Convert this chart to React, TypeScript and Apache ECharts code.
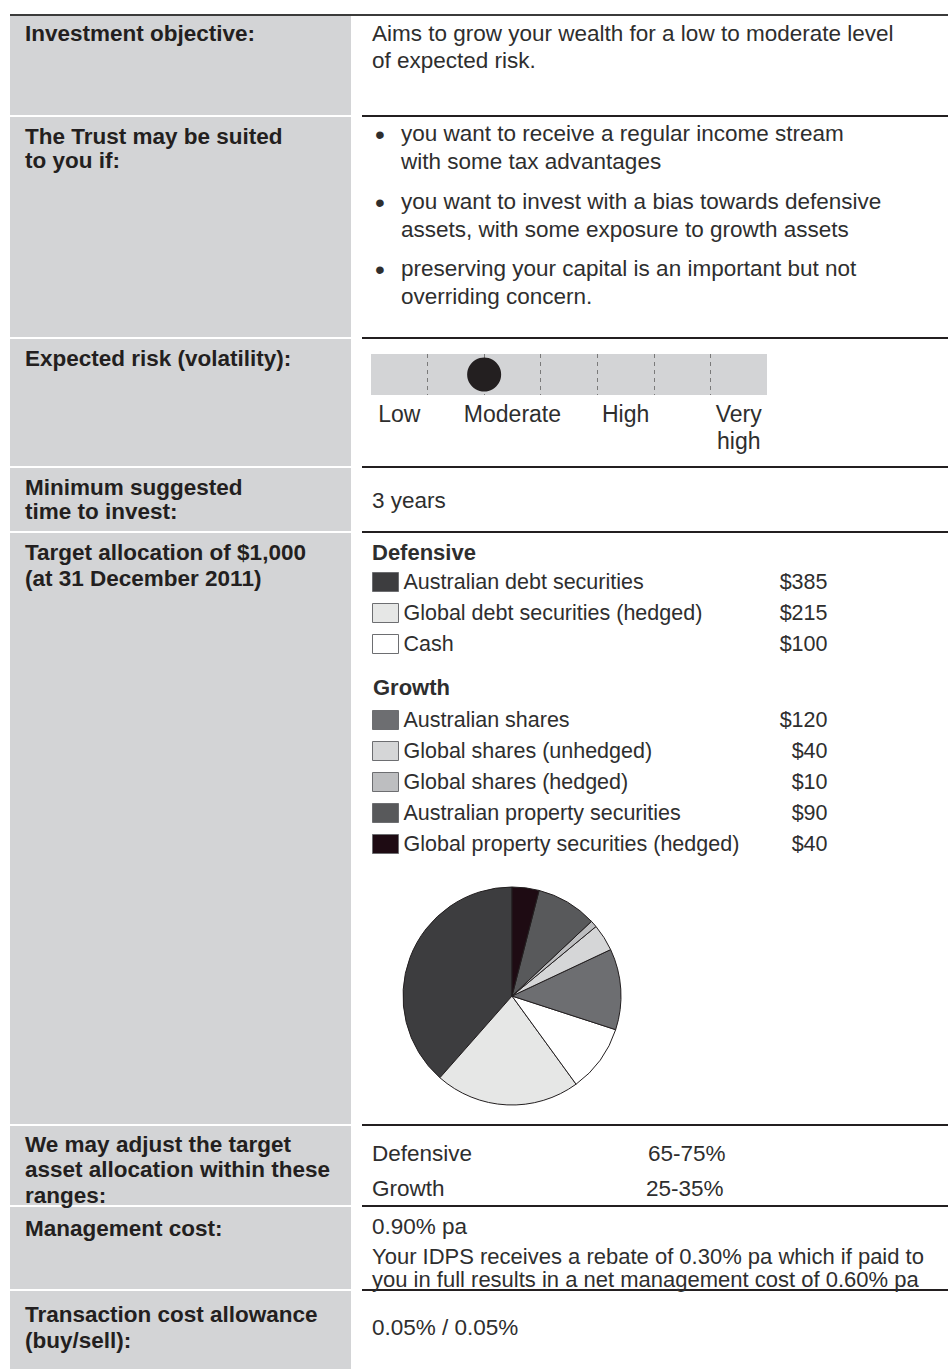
import React, { useEffect, useRef } from "react";
import * as echarts from "echarts";

// ---- data ----
const defensiveNames = ["Australian debt securities", "Global debt securities (hedged)", "Cash"];
const defensiveValues = [385, 215, 100];
const growthNames = [
  "Australian shares",
  "Global shares (unhedged)",
  "Global shares (hedged)",
  "Australian property securities",
  "Global property securities (hedged)",
];
const growthValues = [120, 40, 10, 90, 40];
const sliceColors = ["#3d3d3f", "#e6e7e6", "#ffffff", "#6d6e71", "#d5d6d7", "#bdbec0", "#58595b", "#1e0b13"];

const riskSegmentLabels = ["Low", "", "Moderate", "", "High", "", "Very\nhigh"];
const riskLevel = 2;

const rangeNames = ["Defensive", "Growth"];
const rangeValues = ["65-75%", "25-35%"];

const FONT = "'Liberation Sans', Arial, sans-serif";
const INK = "#231f20";
const BODY = "#2e2e2e";
const GRAY = "#d3d4d6";

export default function App() {
  const ref = useRef<HTMLDivElement>(null);

  useEffect(() => {
    if (!ref.current) return;
    const chart = echarts.init(ref.current, undefined, { renderer: "svg" });

    const allNames = [...defensiveNames, ...growthNames];
    const allValues = [...defensiveValues, ...growthValues];
    const valueOf: Record<string, number> = {};
    allNames.forEach((n, i) => (valueOf[n] = allValues[i]));

    const cells: [number, number][] = [
      [16, 115], [117, 337], [339, 466], [468, 531], [533, 1124], [1126, 1205], [1207, 1289], [1291, 1369],
    ];
    const ruleYs = [116, 338, 467, 532, 1125, 1206, 1290];

    // multi-line label: y = center of first line
    const label = (text: string, y: number, lh = 24) => ({
      type: "text", x: 25, y: y - lh / 2,
      style: { text, fill: INK, font: `bold 22.5px ${FONT}`, lineHeight: lh, verticalAlign: "top" },
    });
    const body = (text: string, x: number, y: number, bold = false, size = 22.5) => ({
      type: "text", x, y,
      style: { text, fill: BODY, font: `${bold ? "bold " : ""}${size}px ${FONT}`, verticalAlign: "middle" },
    });
    const bodyBlock = (text: string, x: number, y: number, lh: number, size = 22) => ({
      type: "text", x, y: y - lh / 2,
      style: { text, fill: BODY, font: `${size}px ${FONT}`, lineHeight: lh, verticalAlign: "top" },
    });

    const graphics: any[] = [
      ...cells.map(([a, b]) => ({ type: "rect", shape: { x: 10, y: a, width: 341, height: b - a }, style: { fill: GRAY } })),
      { type: "line", shape: { x1: 10, y1: 15, x2: 948, y2: 15 }, style: { stroke: "#3b3b3b", lineWidth: 2 } },
      ...ruleYs.map((y) => ({ type: "line", shape: { x1: 362, y1: y, x2: 948, y2: y }, style: { stroke: INK, lineWidth: 2 } })),
      label("Investment objective:", 33),
      label("The Trust may be suited\nto you if:", 136, 24),
      label("Expected risk (volatility):", 358),
      label("Minimum suggested\ntime to invest:", 487, 24),
      label("Target allocation of $1,000\n(at 31 December 2011)", 552, 26),
      label("We may adjust the target\nasset allocation within these\nranges:", 1144, 25.5),
      label("Management cost:", 1228),
      label("Transaction cost allowance\n(buy/sell):", 1314, 26),
      bodyBlock("Aims to grow your wealth for a low to moderate level\nof expected risk.", 372, 33, 27, 22.5),
      body("•", 375, 134, false, 28),
      bodyBlock("you want to receive a regular income stream\nwith some tax advantages", 401, 133, 28, 22.5),
      body("•", 375, 202, false, 28),
      bodyBlock("you want to invest with a bias towards defensive\nassets, with some exposure to growth assets", 401, 201, 28, 22.5),
      body("•", 375, 269, false, 28),
      bodyBlock("preserving your capital is an important but not\noverriding concern.", 401, 268, 28, 22.5),
      body("3 years", 372, 500),
      body("Defensive", 372, 552, true, 22),
      body("Growth", 373, 687, true, 22),
      body(rangeNames[0], 372, 1153),
      body(rangeValues[0], 648, 1153),
      body(rangeNames[1], 372, 1188),
      body(rangeValues[1], 646, 1188),
      body("0.90% pa", 372, 1226),
      bodyBlock(
        "Your IDPS receives a rebate of 0.30% pa which if paid to\nyou in full results in a net management cost of 0.60% pa",
        372, 1256, 23, 22
      ),
      body("0.05% / 0.05%", 372, 1327),
    ];

    const legendBase = (top: number, data: string[]) => ({
      top, left: 372, orient: "vertical", icon: "rect", padding: 0,
      itemWidth: 26, itemHeight: 19, itemGap: 9, selectedMode: false,
      data,
      itemStyle: { borderColor: "#6d6e71", borderWidth: 1 },
      formatter: (name: string) => `{n|${name}}{v|$${valueOf[name]}}`,
      textStyle: {
        color: BODY, fontFamily: FONT, fontSize: 21.5, lineHeight: 20,
        rich: {
          n: { width: 364, fontSize: 21.5, lineHeight: 20, fontFamily: FONT, color: BODY },
          v: { width: 60, align: "right", fontSize: 21.5, lineHeight: 20, fontFamily: FONT, color: BODY },
        },
      },
    });

    chart.setOption({
      animation: false,
      textStyle: { fontFamily: FONT },
      graphic: { elements: graphics },
      legend: [legendBase(571, defensiveNames), legendBase(709, growthNames)],
      grid: {
        left: 371, top: 354, width: 396, height: 41,
        show: true, backgroundColor: GRAY, borderWidth: 0,
      },
      xAxis: [
        {
          type: "value", min: 0, max: riskSegmentLabels.length, interval: 1,
          axisLine: { show: false }, axisTick: { show: false }, axisLabel: { show: false },
          splitLine: { show: true, showMinLine: false, showMaxLine: false, lineStyle: { color: "#7a7a7a", width: 1, type: [4, 4] } },
        },
        {
          type: "category", data: riskSegmentLabels, position: "bottom", boundaryGap: true,
          axisLine: { show: false }, axisTick: { show: false }, splitLine: { show: false },
          axisLabel: { interval: 0, fontSize: 23, lineHeight: 27, margin: 5, color: BODY, fontFamily: FONT },
        },
      ],
      yAxis: { type: "value", min: 0, max: 1, show: false },
      series: [
        {
          type: "scatter", xAxisIndex: 0, yAxisIndex: 0,
          data: [[riskLevel, 0.5]], symbolSize: 34,
          itemStyle: { color: INK, opacity: 1 }, silent: true, z: 5,
        },
        {
          type: "pie", center: [512, 996], radius: 109,
          startAngle: 90, clockwise: false, silent: true,
          label: { show: false }, labelLine: { show: false },
          itemStyle: { borderColor: INK, borderWidth: 1 },
          data: allNames.map((n, i) => ({ name: n, value: allValues[i], itemStyle: { color: sliceColors[i] } })),
        },
      ],
    });

    return () => chart.dispose();
  }, []);

  return (
    <div
      ref={ref}
      style={{ position: "absolute", left: 0, top: 0, width: 948, height: 1369, background: "#fff" }}
    />
  );
}
